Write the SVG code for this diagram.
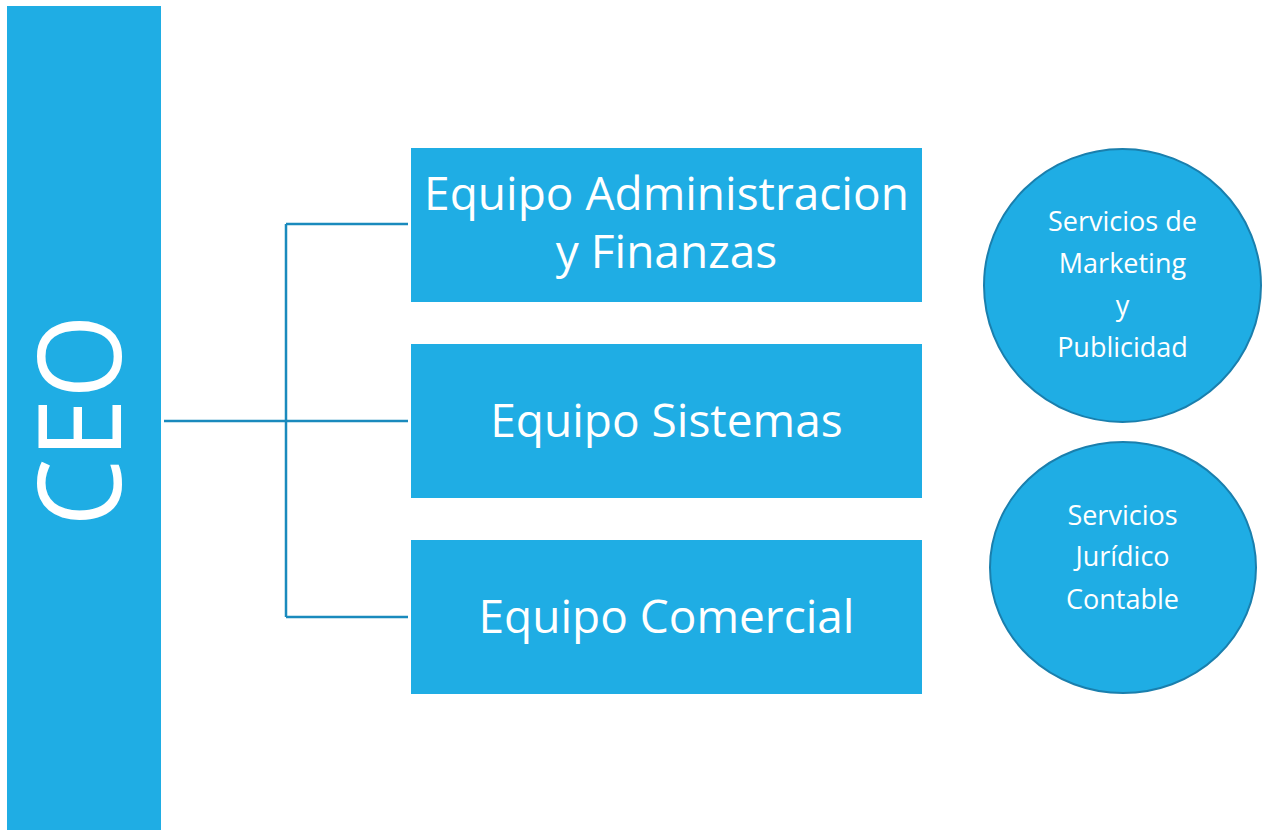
<svg xmlns="http://www.w3.org/2000/svg" width="1266" height="830" viewBox="0 0 1266 830">
<style>
.box{fill:#1FADE4;}
.circ{fill:#1FADE4;stroke:#1A7FAD;stroke-width:2;}
.conn{fill:none;stroke:#1A8ABD;stroke-width:2.5;}
.t{font-family:"Open Sans","Noto Sans",sans-serif;fill:#FFFFFF;text-anchor:middle;}
.tb{font-size:46px;}
.tc{font-size:27px;}
</style>
<rect width="1266" height="830" fill="#FFFFFF"/>
<g id="connectors">
<path class="conn" d="M164 421 H408"/>
<path class="conn" d="M286 224 V617"/>
<path class="conn" d="M286 224 H408"/>
<path class="conn" d="M286 617 H408"/>
</g>
<g id="ceo">
<rect class="box" x="7" y="6" width="154" height="824"/>
<text class="t" font-size="116" transform="translate(121,420.5) rotate(-90)" textLength="212" lengthAdjust="spacingAndGlyphs">CEO</text>
</g>
<g id="admin">
<rect class="box" x="411" y="148" width="511" height="154"/>
<text class="t tb" x="666.5" y="210">Equipo Administracion</text>
<text class="t tb" x="666.5" y="268">y Finanzas</text>
</g>
<g id="sistemas">
<rect class="box" x="411" y="344" width="511" height="154"/>
<text class="t tb" x="666.5" y="437">Equipo Sistemas</text>
</g>
<g id="comercial">
<rect class="box" x="411" y="540" width="511" height="154"/>
<text class="t tb" x="666.5" y="633">Equipo Comercial</text>
</g>
<g id="marketing">
<ellipse class="circ" cx="1122.5" cy="285.5" rx="138.5" ry="136.5"/>
<text class="t tc" x="1122.5" y="231">Servicios de</text>
<text class="t tc" x="1122.5" y="273">Marketing</text>
<text class="t tc" x="1122.5" y="315">y</text>
<text class="t tc" x="1122.5" y="357">Publicidad</text>
</g>
<g id="juridico">
<ellipse class="circ" cx="1123" cy="567.5" rx="133" ry="125.5"/>
<text class="t tc" x="1122.5" y="525">Servicios</text>
<text class="t tc" x="1122.5" y="566">Jurídico</text>
<text class="t tc" x="1122.5" y="609">Contable</text>
</g>
</svg>
